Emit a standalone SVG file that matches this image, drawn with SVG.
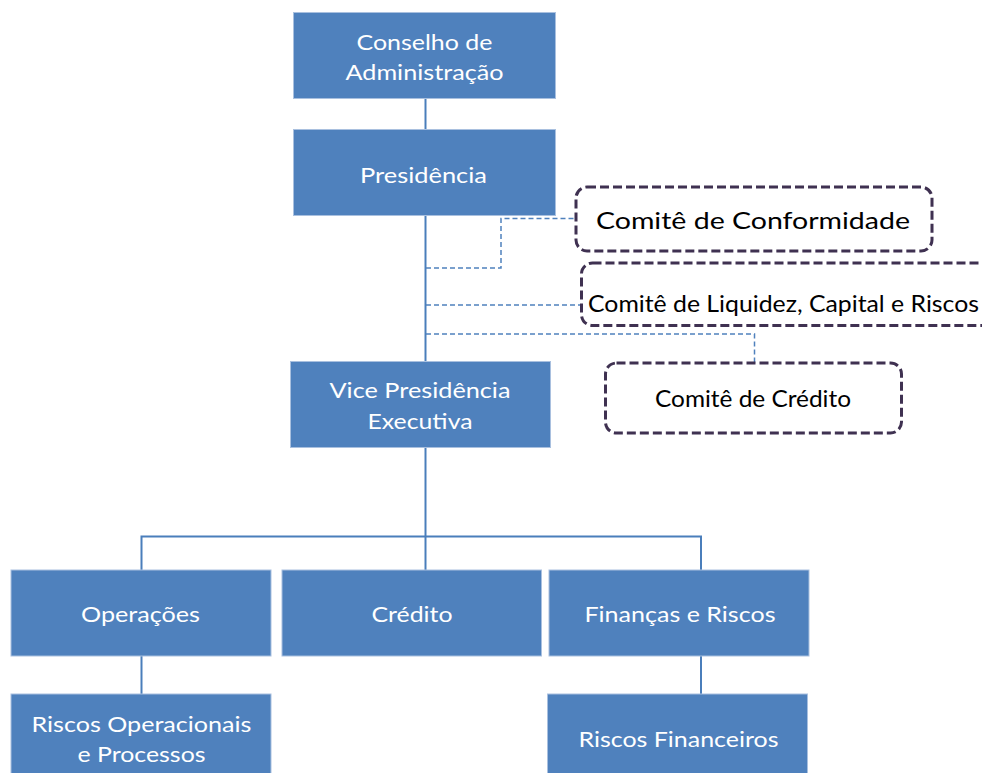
<svg xmlns="http://www.w3.org/2000/svg" width="982" height="773" viewBox="0 0 982 773">
<style>
.box{fill:#4f81bd;stroke:#a9c0df;stroke-width:1}
.wt{fill:#ffffff;font-family:Lato,"Open Sans","Liberation Sans",sans-serif;font-size:21px}
.cm{fill:none;stroke:#3f3151;stroke-width:3;stroke-dasharray:9 4}
.ct{fill:#000000;font-family:Lato,"Open Sans","Liberation Sans",sans-serif;font-size:23px}
.sl{fill:none;stroke:#4a7ebb;stroke-width:2}
.dl{fill:none;stroke:#4f81bd;stroke-width:1.5;stroke-dasharray:5 3}
</style>
<rect width="982" height="773" fill="#ffffff"/>
<g id="connectors">
<path class="sl" d="M425.5 98.5 V129.5"/>
<path class="sl" d="M425.5 215.5 V361.5"/>
<path class="sl" d="M425.5 447 V570"/>
<path class="sl" d="M141.5 570 V536.5 H701 V570"/>
<path class="sl" d="M141.5 656 V694"/>
<path class="sl" d="M701 656 V694"/>
<path class="dl" d="M426 268 H501 V218.5 H575"/>
<path class="dl" d="M426 305 H581"/>
<path class="dl" d="M426 334 H754.5 V362.5"/>
</g>
<g id="conselho">
<rect class="box" x="293.5" y="12.5" width="262" height="86"/>
<text class="wt" x="424.5" y="50" text-anchor="middle" textLength="136" lengthAdjust="spacingAndGlyphs">Conselho de</text>
<text class="wt" x="424.5" y="80" text-anchor="middle" textLength="158" lengthAdjust="spacingAndGlyphs">Administração</text>
</g>
<g id="presidencia">
<rect class="box" x="293.5" y="129.5" width="262" height="86"/>
<text class="wt" x="423.5" y="183" text-anchor="middle" textLength="127" lengthAdjust="spacingAndGlyphs">Presidência</text>
</g>
<g id="vice">
<rect class="box" x="290.5" y="361.5" width="260" height="86"/>
<text class="wt" x="420" y="398" text-anchor="middle" textLength="181" lengthAdjust="spacingAndGlyphs">Vice Presidência</text>
<text class="wt" x="420" y="429" text-anchor="middle" textLength="105" lengthAdjust="spacingAndGlyphs">Executiva</text>
</g>
<g id="comite-conformidade">
<rect class="cm" x="576" y="187" width="356" height="64" rx="11"/>
<text class="ct" x="596" y="229" textLength="314" lengthAdjust="spacingAndGlyphs">Comitê de Conformidade</text>
</g>
<g id="comite-liquidez">
<rect class="cm" x="581.5" y="263" width="430" height="62.5" rx="11"/>
<text class="ct" x="588" y="312" textLength="391" lengthAdjust="spacingAndGlyphs">Comitê de Liquidez, Capital e Riscos</text>
</g>
<g id="comite-credito">
<rect class="cm" x="605.5" y="363" width="296" height="70" rx="11"/>
<text class="ct" x="655" y="406.5" textLength="196" lengthAdjust="spacingAndGlyphs">Comitê de Crédito</text>
</g>
<g id="operacoes">
<rect class="box" x="11" y="570" width="260" height="86"/>
<text class="wt" x="140.5" y="621.5" text-anchor="middle" textLength="119" lengthAdjust="spacingAndGlyphs">Operações</text>
</g>
<g id="credito">
<rect class="box" x="282" y="570" width="259.5" height="86"/>
<text class="wt" x="412" y="621.5" text-anchor="middle" textLength="81" lengthAdjust="spacingAndGlyphs">Crédito</text>
</g>
<g id="financas">
<rect class="box" x="549" y="570" width="260" height="86"/>
<text class="wt" x="680" y="621.5" text-anchor="middle" textLength="191" lengthAdjust="spacingAndGlyphs">Finanças e Riscos</text>
</g>
<g id="riscos-operacionais">
<rect class="box" x="11" y="694" width="260" height="90"/>
<text class="wt" x="141.5" y="732" text-anchor="middle" textLength="220" lengthAdjust="spacingAndGlyphs">Riscos Operacionais</text>
<text class="wt" x="141.5" y="761.5" text-anchor="middle" textLength="128" lengthAdjust="spacingAndGlyphs">e Processos</text>
</g>
<g id="riscos-financeiros">
<rect class="box" x="547.5" y="694" width="260" height="90"/>
<text class="wt" x="678.5" y="746.5" text-anchor="middle" textLength="200" lengthAdjust="spacingAndGlyphs">Riscos Financeiros</text>
</g>
</svg>
